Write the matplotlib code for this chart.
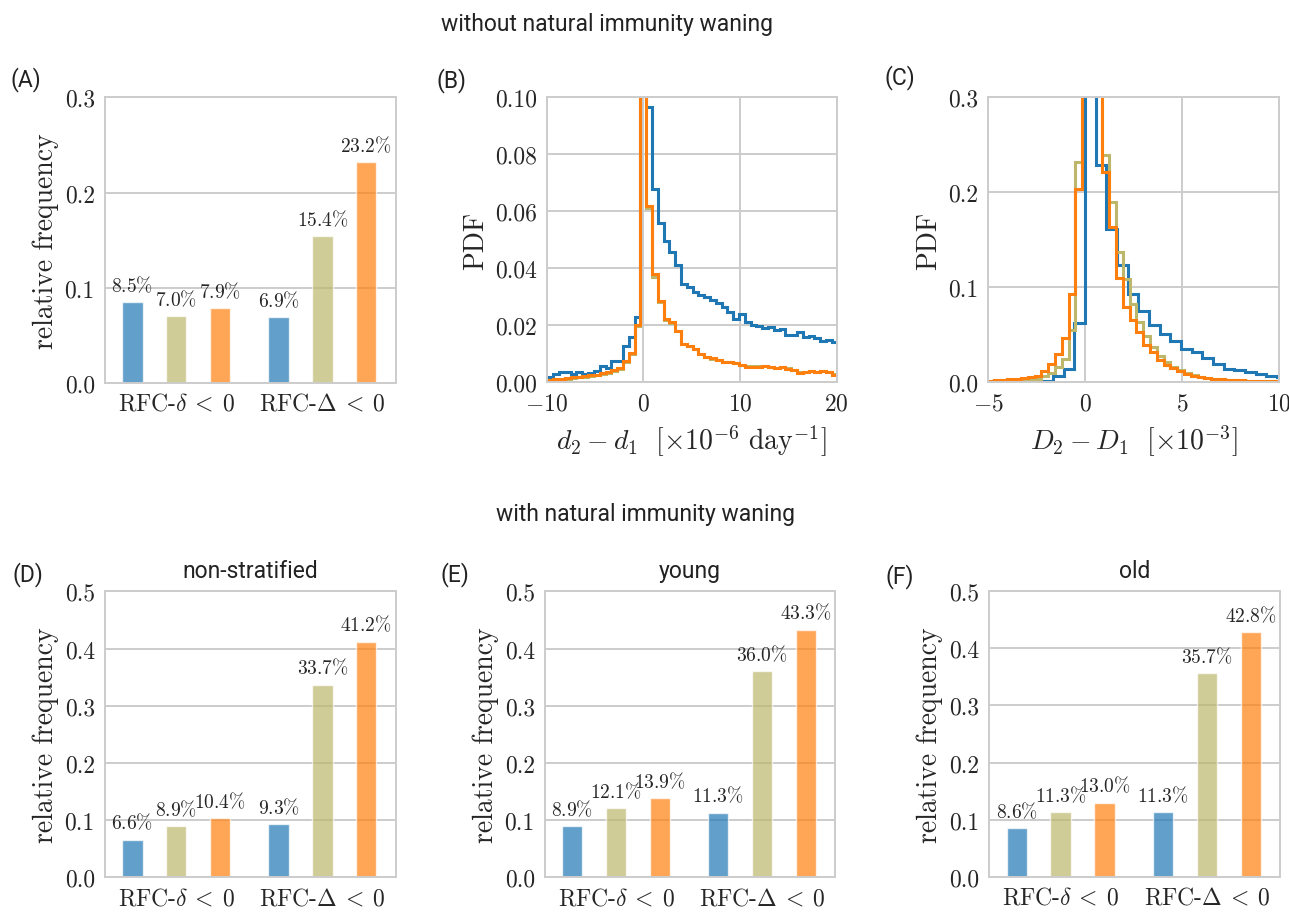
import numpy as np
import matplotlib
matplotlib.use("Agg")
import matplotlib.pyplot as plt
import seaborn as sns

# ================================================================================================
# Data
# ================================================================================================
groups = [r"RFC-$\delta\:<\:0$", r"RFC-$\Delta\:<\:0$"]

# relative frequencies: [RFC-delta<0, RFC-Delta<0] for the three series
freq_A = {"blue": [0.085, 0.069], "olive": [0.070, 0.154], "orange": [0.079, 0.232]}
freq_D = {"blue": [0.066, 0.093], "olive": [0.089, 0.337], "orange": [0.104, 0.412]}
freq_E = {"blue": [0.089, 0.113], "olive": [0.121, 0.360], "orange": [0.139, 0.433]}
freq_F = {"blue": [0.086, 0.113], "olive": [0.113, 0.357], "orange": [0.130, 0.428]}

# panel B histograms, d2 - d1 [1e-6 / day]
b_edges = np.linspace(-10.5, 20.7, 53)
b_blue = [0.0018, 0.0018, 0.0029, 0.0035, 0.0037, 0.0029, 0.0035, 0.0030, 0.0032, 0.0040,
          0.0057, 0.0051, 0.0074, 0.0076, 0.0127, 0.0160, 0.0229, 0.20,
          0.0965, 0.068, 0.056, 0.0497, 0.0456, 0.041, 0.0345, 0.0333, 0.0318, 0.0306,
          0.0298, 0.0289, 0.028, 0.0263, 0.0246, 0.0222, 0.024, 0.0213, 0.0201, 0.0196,
          0.019, 0.0193, 0.0185, 0.0187, 0.0166, 0.0166, 0.0178, 0.0158, 0.0164, 0.0155,
          0.0146, 0.015, 0.0143, 0.0143]
b_olive = [0.0006, 0.0007, 0.0009, 0.0011, 0.0013, 0.0015, 0.0017, 0.0020, 0.0022, 0.0025,
           0.0029, 0.0033, 0.0040, 0.0048, 0.0070, 0.0098, 0.0196, 0.24,
           0.061, 0.037, 0.0283, 0.0220, 0.0208, 0.0180, 0.0133, 0.0128, 0.0116, 0.0099,
           0.0089, 0.0083, 0.0080, 0.0071, 0.0071, 0.0068, 0.0061, 0.0056, 0.0056, 0.0056,
           0.0058, 0.0054, 0.0051, 0.0053, 0.0049, 0.0043, 0.0035, 0.0037, 0.0039, 0.0037,
           0.0038, 0.0036, 0.0028, 0.0026]
b_orange = [0.0008, 0.0009, 0.0011, 0.0013, 0.0015, 0.0017, 0.0019, 0.0022, 0.0024, 0.0027,
            0.0031, 0.0035, 0.0043, 0.0051, 0.0074, 0.0103, 0.0202, 0.25,
            0.062, 0.038, 0.0286, 0.0222, 0.021, 0.0181, 0.0134, 0.0129, 0.0117, 0.0099,
            0.0088, 0.0084, 0.0080, 0.0070, 0.0072, 0.0068, 0.0060, 0.0055, 0.0055, 0.0055,
            0.0058, 0.0053, 0.0050, 0.0053, 0.0048, 0.0042, 0.0034, 0.0036, 0.0039, 0.0036,
            0.0039, 0.0036, 0.0027, 0.0025]

# panel C histograms, D2 - D1 [1e-3]
c_blue_edges = np.linspace(-5.5, 10.45, 30)
c_blue = [0.0005, 0.0005, 0.0006, 0.0008, 0.0010, 0.0015, 0.0018, 0.0070, 0.0140, 0.0620,
          0.50, 0.229, 0.161, 0.123, 0.093, 0.075, 0.060, 0.051, 0.043, 0.035, 0.032,
          0.026, 0.019, 0.014, 0.013, 0.0105, 0.0088, 0.0070, 0.0060]
c_edges = np.linspace(-5.05, 10.35, 45)
c_olive = [0.0008, 0.0010, 0.0012, 0.0015, 0.0018, 0.0022, 0.0030, 0.0040, 0.0065, 0.010,
           0.016, 0.025, 0.055, 0.232, 0.50, 0.60, 0.40,
           0.239, 0.19, 0.137, 0.109, 0.082, 0.063, 0.049, 0.037, 0.028, 0.021, 0.016,
           0.013, 0.010, 0.008, 0.006, 0.0045, 0.0035, 0.003, 0.0025, 0.002, 0.0018,
           0.0015, 0.0013, 0.0011, 0.001, 0.0009, 0.0008]
c_orange = [0.0018, 0.0020, 0.0025, 0.0030, 0.0035, 0.0045, 0.0055, 0.0070, 0.0122, 0.019,
            0.030, 0.047, 0.093, 0.203, 0.50, 0.60, 0.32,
            0.221, 0.163, 0.11, 0.079, 0.066, 0.053, 0.039, 0.032, 0.023, 0.018, 0.015,
            0.012, 0.009, 0.007, 0.006, 0.005, 0.004, 0.0032, 0.0026, 0.0022, 0.0019,
            0.0016, 0.0014, 0.0012, 0.0011, 0.001, 0.001]

colors = {"blue": "#1f77b4", "olive": "#bdb76b", "orange": "#ff7f0e"}

# ================================================================================================
# Style
# ================================================================================================
sns.set_style("whitegrid")
plt.rcParams.update({
    "font.family": "serif",
    "font.serif": ["cmr10"],
    "mathtext.fontset": "cm",
    "axes.formatter.use_mathtext": True,
    "axes.edgecolor": "#cccccc",
    "grid.color": "#cccccc",
    "axes.linewidth": 1.4,
    "grid.linewidth": 1.4,
    "xtick.labelsize": 17,
    "ytick.labelsize": 17,
    "axes.labelsize": 20,
    "text.color": "#262626",
    "xtick.color": "#262626",
    "ytick.color": "#262626",
})
SANS = ["Roboto", "DejaVu Sans"]
SANS_KW = dict(family=SANS, fontsize=16.5, fontweight="normal", color="#222222")

W, H = 1289, 920
fig = plt.figure(figsize=(W / 100, H / 100), dpi=100)


def rect(x0, y0, x1, y1):
    return [x0 / W, 1 - y1 / H, (x1 - x0) / W, (y1 - y0) / H]


def bar_panel(ax, freq, ymax):
    offsets = [-0.3, 0.0, 0.3]
    for off, key in zip(offsets, ["blue", "olive", "orange"]):
        xs = np.arange(len(groups)) + off
        bars = ax.bar(xs, freq[key], width=0.14, color=colors[key], alpha=0.7,
                      edgecolor="white", linewidth=1.0, zorder=2)
        for b, v in zip(bars, freq[key]):
            ax.annotate(rf"${v * 100:.1f}\%$", (b.get_x() + b.get_width() / 2, v),
                        xytext=(0, 5), textcoords="offset points",
                        ha="center", va="bottom", fontsize=14)
    ax.set_xlim(-0.49, 1.5)
    ax.set_ylim(0, ymax)
    ax.set_yticks(np.arange(0, ymax + 0.001, 0.1))
    ax.set_xticks(range(len(groups)))
    ax.set_xticklabels(groups)
    ax.xaxis.grid(False)
    ax.set_ylabel("relative frequency")
    ax.yaxis.set_major_formatter(matplotlib.ticker.FormatStrFormatter("%.1f"))


axA = fig.add_axes(rect(104.5, 98.3, 395.5, 384))
axB = fig.add_axes(rect(546.5, 98.3, 836.7, 383.3))
axC = fig.add_axes(rect(988, 98.3, 1279, 383.3))
axD = fig.add_axes(rect(104.5, 592.3, 395.5, 878.3))
axE = fig.add_axes(rect(544.5, 592.3, 835, 878.3))
axF = fig.add_axes(rect(989, 592, 1280, 878))

bar_panel(axA, freq_A, 0.3)
bar_panel(axD, freq_D, 0.5)
bar_panel(axE, freq_E, 0.5)
bar_panel(axF, freq_F, 0.5)

# histograms
axB.stairs(b_blue, b_edges, color=colors["blue"], lw=2.2)
axB.stairs(b_olive, b_edges, color=colors["olive"], lw=2.2)
axB.stairs(b_orange, b_edges, color=colors["orange"], lw=2.2)
axB.set_xlim(-10, 20)
axB.set_ylim(0, 0.1)
axB.set_xticks([-10, 0, 10, 20])
axB.set_yticks(np.arange(0, 0.101, 0.02))
axB.yaxis.set_major_formatter(matplotlib.ticker.FormatStrFormatter("%.2f"))
axB.set_ylabel("PDF")
axB.set_xlabel(r"$d_2 - d_1\ \ [\times 10^{-6}\ \mathrm{day}^{-1}]$", labelpad=6)

axC.stairs(c_blue, c_blue_edges, color=colors["blue"], lw=2.2)
axC.stairs(c_olive, c_edges, color=colors["olive"], lw=2.2)
axC.stairs(c_orange, c_edges, color=colors["orange"], lw=2.2)
axC.set_xlim(-5, 10)
axC.set_ylim(0, 0.3)
axC.set_xticks([-5, 0, 5, 10])
axC.set_yticks([0.0, 0.1, 0.2, 0.3])
axC.yaxis.set_major_formatter(matplotlib.ticker.FormatStrFormatter("%.1f"))
axC.set_ylabel("PDF")
axC.set_xlabel(r"$D_2 - D_1\ \ [\times 10^{-3}]$", labelpad=6)

for ax, t in [(axD, "non-stratified"), (axE, "young"), (axF, "old")]:
    ax.set_title(t, pad=10, **SANS_KW)

# panel letters and headers
for lbl, x, y in [("(A)", 26, 80), ("(B)", 452, 81), ("(C)", 900, 78),
                  ("(D)", 28, 575), ("(E)", 455, 575), ("(F)", 900, 577)]:
    fig.text(x / W, 1 - y / H, lbl, ha="center", va="center", **SANS_KW)

fig.text(607 / W, 1 - 25 / H, "without natural immunity waning",
         ha="center", va="center", **SANS_KW)
fig.text(646 / W, 1 - 515 / H, "with natural immunity waning",
         ha="center", va="center", **SANS_KW)

fig.savefig("out.png", dpi=100)
